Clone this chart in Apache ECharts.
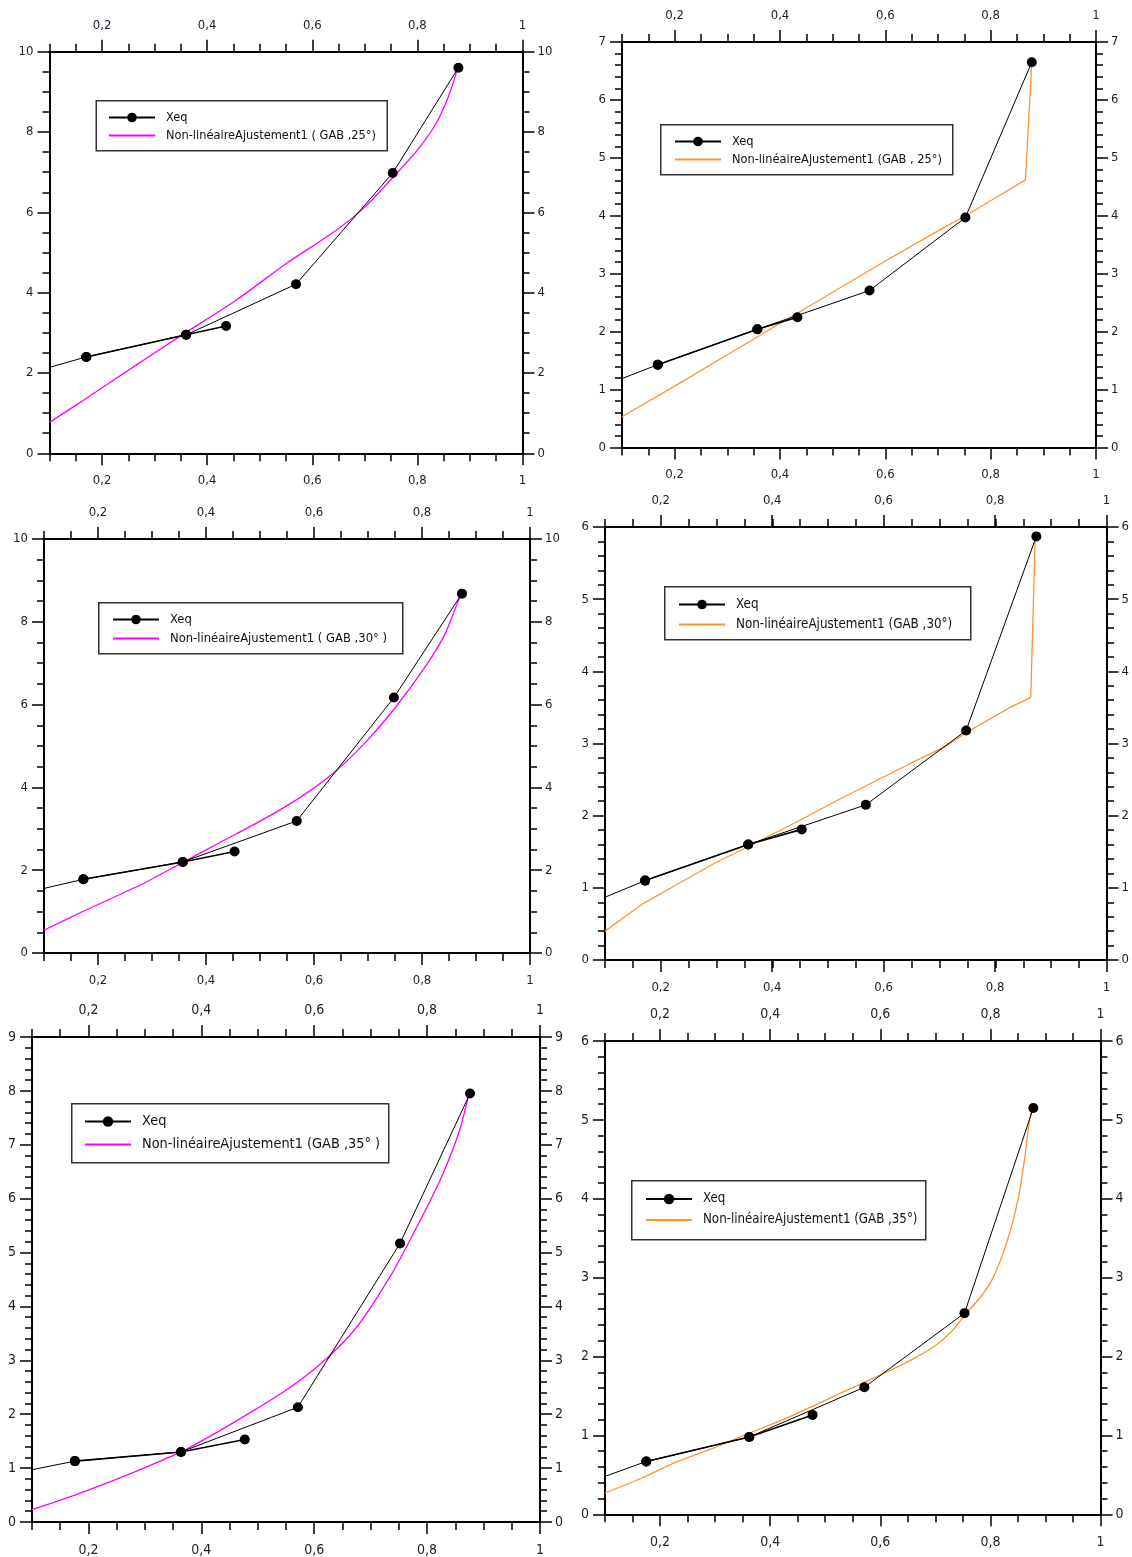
<!DOCTYPE html>
<html>
<head>
<meta charset="utf-8">
<script src="https://cdn.jsdelivr.net/npm/echarts@6/dist/echarts.min.js"></script>
<style>
html,body{margin:0;padding:0;background:#fff;}
#c{width:1132px;height:1557px;}
</style>
</head>
<body>
<div id="c"></div>
<script>
// ---------- DATA ----------
// Panel 1 : GAB 25° (magenta fit)
const p1XeqX = [0.170, 0.360, 0.436, 0.569, 0.753, 0.878];
const p1XeqY = [2.40, 2.95, 3.17, 4.21, 6.98, 9.60];
const p1TrendStartY = 2.14;
const p1FitX = [0.10, 0.169, 0.264, 0.356, 0.455, 0.550, 0.645, 0.700, 0.754, 0.800, 0.835, 0.858, 0.870, 0.876];
const p1FitY = [0.77, 1.36, 2.19, 2.98, 3.81, 4.72, 5.55, 6.13, 6.88, 7.55, 8.20, 8.85, 9.30, 9.58];

// Panel 2 : GAB 25° (orange fit)
const p2XeqX = [0.168, 0.357, 0.433, 0.570, 0.752, 0.878];
const p2XeqY = [1.43, 2.04, 2.25, 2.71, 3.97, 6.65];
const p2TrendStartY = 1.19;
const p2FitX = [0.10, 0.20, 0.30, 0.40, 0.50, 0.60, 0.70, 0.752, 0.80, 0.866, 0.878];
const p2FitY = [0.53, 1.06, 1.60, 2.14, 2.68, 3.22, 3.74, 4.00, 4.26, 4.62, 6.63];

// Panel 3 : GAB 30° (magenta fit)
const p3XeqX = [0.173, 0.357, 0.453, 0.568, 0.748, 0.874];
const p3XeqY = [1.78, 2.20, 2.45, 3.19, 6.17, 8.68];
const p3TrendStartY = 1.56;
const p3FitX = [0.10, 0.175, 0.281, 0.357, 0.426, 0.512, 0.578, 0.640, 0.696, 0.749, 0.809, 0.842, 0.861, 0.873];
const p3FitY = [0.55, 1.02, 1.66, 2.19, 2.67, 3.27, 3.79, 4.39, 5.10, 5.90, 6.97, 7.69, 8.30, 8.70];

// Panel 4 : GAB 30° (orange fit)
const p4XeqX = [0.172, 0.357, 0.453, 0.568, 0.748, 0.874];
const p4XeqY = [1.10, 1.60, 1.81, 2.15, 3.18, 5.87];
const p4TrendStartY = 0.87;
const p4FitX = [0.10, 0.166, 0.230, 0.294, 0.359, 0.448, 0.519, 0.583, 0.647, 0.711, 0.750, 0.827, 0.864, 0.872];
const p4FitY = [0.40, 0.77, 1.05, 1.33, 1.58, 1.93, 2.22, 2.47, 2.72, 2.96, 3.16, 3.50, 3.64, 5.86];

// Panel 5 : GAB 35° (magenta fit)
const p5XeqX = [0.176, 0.364, 0.477, 0.571, 0.752, 0.876];
const p5XeqY = [1.13, 1.30, 1.53, 2.13, 5.17, 7.95];
const p5TrendStartY = 0.97;
const p5FitX = [0.10, 0.176, 0.232, 0.296, 0.364, 0.422, 0.485, 0.548, 0.611, 0.674, 0.737, 0.781, 0.825, 0.857, 0.875];
const p5FitY = [0.23, 0.50, 0.72, 0.99, 1.30, 1.63, 2.02, 2.43, 2.93, 3.60, 4.60, 5.46, 6.39, 7.25, 7.98];

// Panel 6 : GAB 35° (orange fit)
const p6XeqX = [0.175, 0.362, 0.477, 0.571, 0.753, 0.878];
const p6XeqY = [0.67, 0.98, 1.26, 1.61, 2.55, 5.15];
const p6TrendStartY = 0.48;
const p6FitX = [0.10, 0.167, 0.232, 0.297, 0.362, 0.427, 0.492, 0.570, 0.623, 0.660, 0.700, 0.730, 0.753, 0.785, 0.805, 0.830, 0.850, 0.862, 0.870, 0.875];
const p6FitY = [0.27, 0.46, 0.67, 0.84, 1.03, 1.21, 1.42, 1.67, 1.84, 1.97, 2.14, 2.32, 2.52, 2.78, 3.00, 3.45, 3.98, 4.50, 4.95, 5.15];

// tick labels
const xTickLabels = [0.2, 0.4, 0.6, 0.8, 1];
const seriesXeqName = 'Xeq';
const fitNames = [
  'Non-linéaireAjustement1 ( GAB ,25°)',
  'Non-linéaireAjustement1 (GAB , 25°)',
  'Non-linéaireAjustement1 ( GAB ,30° )',
  'Non-linéaireAjustement1 (GAB ,30°)',
  'Non-linéaireAjustement1 (GAB ,35° )',
  'Non-linéaireAjustement1 (GAB ,35°)'
];

// ---------- LAYOUT / STYLE ----------
const MAGENTA = '#ff00ff';
const ORANGE = '#ff9430';
const FONT = "'DejaVu Sans Condensed', 'Liberation Sans', sans-serif";
const LABEL_COLOR = '#1c1c2c';

const panels = [
  {x:p1XeqX, y:p1XeqY, s:p1TrendStartY, fx:p1FitX, fy:p1FitY, color:MAGENTA, smooth:0.25,
   grid:[49.5, 51.7, 473, 401.6], yMax:10, yInt:2, yMinor:0.5, fs:13,
   lg:{box:[95.5,100,291,50], left:108, cy:117, sp:17, fs:12.7, ih:12}},
  {x:p2XeqX, y:p2XeqY, s:p2TrendStartY, fx:p2FitX, fy:p2FitY, color:ORANGE, smooth:false,
   grid:[622, 42, 474, 405.5], yMax:7, yInt:1, yMinor:0.2, fs:13,
   lg:{box:[660,124,292,50], left:674, cy:141, sp:17, fs:12.7, ih:12}},
  {x:p3XeqX, y:p3XeqY, s:p3TrendStartY, fx:p3FitX, fy:p3FitY, color:MAGENTA, smooth:0.25,
   grid:[44, 539, 486, 414], yMax:10, yInt:2, yMinor:0.5, fs:13,
   lg:{box:[98,602,304,51], left:112, cy:619, sp:18, fs:12.9, ih:12}},
  {x:p4XeqX, y:p4XeqY, s:p4TrendStartY, fx:p4FitX, fy:p4FitY, color:ORANGE, smooth:false,
   grid:[605, 527, 502, 433], yMax:6, yInt:1, yMinor:0.2, fs:13,
   lg:{box:[664,586,306,53], left:678, cy:604, sp:19, fs:13.3, ih:12}},
  {x:p5XeqX, y:p5XeqY, s:p5TrendStartY, fx:p5FitX, fy:p5FitY, color:MAGENTA, smooth:0.25,
   grid:[32, 1037, 508, 485], yMax:9, yInt:1, yMinor:0.2, fs:14,
   lg:{box:[71,1103,317,59], left:84, cy:1121, sp:22, fs:14.4, ih:13}},
  {x:p6XeqX, y:p6XeqY, s:p6TrendStartY, fx:p6FitX, fy:p6FitY, color:ORANGE, smooth:0.25,
   grid:[605, 1041, 495.5, 473.3], yMax:6, yInt:1, yMinor:0.2, fs:14,
   lg:{box:[631,1180,294,59], left:645, cy:1199, sp:21, fs:13.2, ih:13}}
];

function fmtX(v){
  const k = Math.round(v * 10);
  if (k % 2 !== 0) return '';
  return k === 10 ? '1' : ('0,' + k);
}

const grid = [], xAxis = [], yAxis = [], series = [], legend = [], graphic = [];
const axLine = {show:true, onZero:false, lineStyle:{color:'#000', width:2}};
const tickStyle = {color:'#000', width:1.5};

panels.forEach((p, i) => {
  const [l, t, w, h] = p.grid;
  grid.push({left:l, top:t, width:w, height:h, containLabel:false});
  grid.push({left:l, top:t, width:w, height:h, containLabel:false});
  const gMain = 2*i, gFine = 2*i + 1;
  const lab = (m) => ({show:true, margin:m, color:LABEL_COLOR, fontSize:p.fs, fontFamily:FONT});
  ['bottom','top'].forEach(pos => {
    xAxis.push({type:'value', gridIndex:gMain, position:pos, min:0.1, max:1, interval:0.1,
      axisLine:axLine,
      axisTick:{show:true, inside:false, length:12, lineStyle:tickStyle, customValues:xTickLabels},
      axisLabel:Object.assign(lab(pos === 'bottom' ? 21 : 20), {formatter:fmtX, customValues:xTickLabels}),
      splitLine:{show:false}});
  });
  ['bottom','top'].forEach(pos => {
    xAxis.push({type:'value', gridIndex:gFine, position:pos, min:0.1, max:1, interval:0.05,
      axisLine:axLine,
      axisTick:{show:true, inside:false, length:8, lineStyle:tickStyle},
      axisLabel:{show:false}, splitLine:{show:false}});
  });
  ['left','right'].forEach(pos => {
    yAxis.push({type:'value', gridIndex:gMain, position:pos, min:0, max:p.yMax, interval:p.yInt,
      axisLine:axLine,
      axisTick:{show:true, inside:false, length:12, lineStyle:tickStyle},
      axisLabel:Object.assign(lab(pos === 'left' ? 16 : 15), {formatter:(v)=>String(v)}),
      splitLine:{show:false}});
  });
  ['left','right'].forEach(pos => {
    yAxis.push({type:'value', gridIndex:gFine, position:pos, min:0, max:p.yMax, interval:p.yMinor,
      axisLine:axLine,
      axisTick:{show:true, inside:false, length:7, lineStyle:tickStyle},
      axisLabel:{show:false}, splitLine:{show:false}});
  });
  const xi = 4*i, yi = 4*i;
  const pt = (k) => [p.x[k], p.y[k]];
  // fitted curve
  series.push({type:'line', name:fitNames[i], xAxisIndex:xi, yAxisIndex:yi,
    data:p.fx.map((v,k)=>[v, p.fy[k]]), symbol:'none', smooth:p.smooth,
    lineStyle:{color:p.color, width:1.3}, itemStyle:{color:p.color}, z:2, silent:true});
  // main Xeq trend line
  const trend = [{value:[0.1, p.s], symbol:'none'}].concat([0,1,3,4,5].map(k => ({value:pt(k)})));
  series.push({type:'line', name:seriesXeqName, xAxisIndex:xi, yAxisIndex:yi, data:trend,
    symbol:'circle', symbolSize:10, showAllSymbol:true,
    lineStyle:{color:'#000', width:1}, itemStyle:{color:'#000'}, z:3, silent:true});
  // branch segment of Xeq
  series.push({type:'line', name:'XeqBranch', xAxisIndex:xi, yAxisIndex:yi,
    data:[0,1,2].map(k => pt(k)), symbol:'circle', symbolSize:10, showAllSymbol:true,
    lineStyle:{color:'#000', width:1.6}, itemStyle:{color:'#000'}, z:3, silent:true});
  // legend
  const L = p.lg;
  graphic.push({type:'rect', left:L.box[0], top:L.box[1], shape:{width:L.box[2], height:L.box[3]},
    style:{fill:'#fff', stroke:'#333', lineWidth:1.5}, z:50});
  legend.push({orient:'vertical', left:L.left, top:L.cy - L.ih/2, padding:0,
    itemWidth:46, itemHeight:L.ih, itemGap:L.sp - L.ih, selectedMode:false, z:60,
    data:[{name:seriesXeqName},
          {name:fitNames[i], itemStyle:{color:'rgba(0,0,0,0)', borderColor:'rgba(0,0,0,0)', borderWidth:0, opacity:0}}],
    textStyle:{fontSize:L.fs, color:'#111', fontFamily:FONT, lineHeight:L.ih, padding:[0,0,0,6]}});
});

const chart = echarts.init(document.getElementById('c'), null, {renderer:'canvas'});
chart.setOption({
  animation:false,
  backgroundColor:'#fff',
  grid, xAxis, yAxis, series, legend, graphic
});
</script>
</body>
</html>
